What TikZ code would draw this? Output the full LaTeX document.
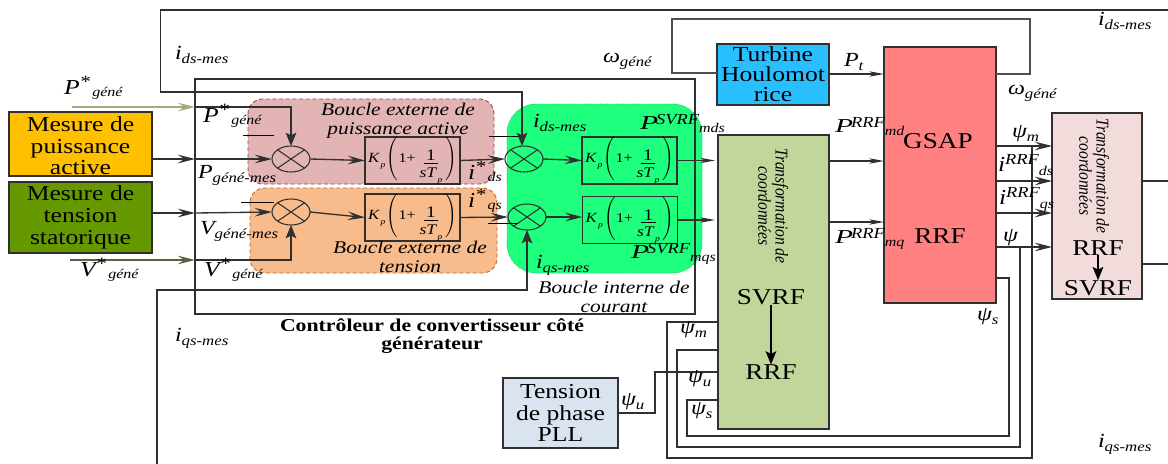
\documentclass[tikz,border=0pt]{standalone}
\usepackage{fontspec}
\usepackage{amsmath}
\setmainfont{Liberation Serif}[FakeStretch=1.2]
\usetikzlibrary{arrows.meta,shapes.geometric,calc}
\definecolor{cyel}{HTML}{FFC000}
\definecolor{cgrn}{HTML}{669900}
\definecolor{cpink}{HTML}{E3B4B4}
\definecolor{cpinkd}{HTML}{A04050}
\definecolor{corg}{HTML}{F7BB8C}
\definecolor{corgd}{HTML}{B86A30}
\definecolor{cgreen}{HTML}{1EFF7E}
\definecolor{cblue}{HTML}{29BFFF}
\definecolor{cred}{HTML}{FF8080}
\definecolor{colive}{HTML}{C2D69B}
\definecolor{crose}{HTML}{F2DCDB}
\definecolor{cpll}{HTML}{DAE3F0}
\definecolor{cpa}{HTML}{A8A880}
\definecolor{cva}{HTML}{5E5E40}
\definecolor{cln}{HTML}{303030}
\newcommand\sz[2]{\fontsize{#1}{#2}\selectfont}
\newcommand\lab[3]{{\itshape\sz{16}{16}#1\raisebox{.3em}{\sz{13}{13}#2}\raisebox{-.12em}{\sz{10}{10}\,#3}}}
\newcommand\sublab[2]{{\itshape\sz{15}{15}#1\raisebox{-.2em}{\sz{10.5}{10.5}#2}}}
\newcommand\suplab[3]{{\itshape\sz{18.5}{18}\scalebox{1}[.8]{#1}\kern-.08em\raisebox{.2em}{\sz{11.5}{12}#2}\raisebox{-.16em}{\sz{10}{10}#3}}}
\newcommand\isuplab[3]{{\itshape\sz{16}{16}#1\raisebox{.3em}{\sz{11.5}{12}#2}\raisebox{-.2em}{\sz{10}{10}#3}}}
\newcommand\pitext{{\itshape\sz{10.5}{10}K\raisebox{-.35em}{\sz{6}{6}\,p}\kern1pt$\left(\rule[-12.5pt]{0pt}{27pt}\right.$\kern-1pt{\upshape\sz{10}{10}1+}\kern3pt\raisebox{-6pt}{\begin{tabular}{@{}c@{}}\rule[-2pt]{0pt}{10pt}{\upshape\sz{12}{12}\underline{\,1\,}}\\[2pt]{\sz{11}{11}sT\raisebox{-.35em}{\sz{6}{6}\,p}}\end{tabular}}\kern1pt$\left.\rule[-12.5pt]{0pt}{27pt}\right)$}}
\newcommand\trtext{\scalebox{.72}[1]{\begin{tabular}{@{}c@{}}\itshape\sz{13.5}{21.5}Transformation de\\\itshape\sz{13.5}{21.5}coordonnées\end{tabular}}}
\tikzset{
  px/.style 2 args={minimum width=#1*0.75pt,minimum height=#2*0.75pt,inner sep=0pt,outer sep=0pt},
  blockbox/.style={draw=cln,line width=1.1pt,align=center},
  bigtxt/.style={font=\sz{16}{16.3},text=black},
  hugetxt/.style={font=\sz{17}{17},text=black},
  pibox/.style={draw=cln,line width=1pt,px={95}{41}},
  mult/.style={draw=cln,line width=.8pt,ellipse,px={38}{26}},
  region/.style={rounded corners=11pt,line width=.7pt,densely dashed},
  lb/.style={inner sep=0pt,outer sep=0pt,anchor=base west},
  ctr/.style={inner sep=0pt,outer sep=0pt,anchor=center,align=center},
  ital/.style={ctr,font=\itshape\sz{13.4}{14}},
  wire/.style={draw=cln,line width=1pt},
  ar/.style={-{Stealth[length=13pt,width=6.5pt,inset=5pt]}},
  sar/.style={-{Stealth[length=11pt,width=4pt,inset=3pt]}},
  nar/.style={-{Stealth[length=10pt,width=8pt,inset=2pt]}}
}
\begin{document}
\begin{tikzpicture}[x=0.75pt,y=-0.75pt]
\useasboundingbox (0,0) rectangle (1168,464);
% regions
\draw[region,draw=cpinkd,fill=cpink] (248,99) rectangle (494,184);
\draw[region,draw=corgd,fill=corg] (250,188) rectangle (497,273);
\draw[region,draw=cgreen!80!black,fill=cgreen,rounded corners=22pt,densely dotted] (507,104) rectangle (702,273);
% controller frame
\node[draw=cln,line width=1pt,px={500}{235},anchor=north west] (ctrl) at (195,79) {};
% blocks
\node[blockbox,fill=cyel,px={143}{64},bigtxt] (mp) at (80.5,144) {\rule{0pt}{14pt}Mesure de\\puissance\\active};
\node[blockbox,fill=cgrn,px={143}{71},bigtxt] (mt) at (80.5,217.5) {Mesure de\\tension\\statorique};
\node[blockbox,fill=cblue,px={112}{61},font=\sz{16}{15},text=black] (turb) at (773,74.5) {Turbine\\Houlomot\\rice};
\node[blockbox,fill=colive,px={111}{294}] (tr) at (773.5,282) {};
\node[blockbox,fill=cred,px={112}{256}] (gsap) at (940,175) {};
\node[blockbox,fill=crose,px={90}{186}] (trr) at (1097,206) {};
\node[blockbox,fill=cpll,px={115}{70},bigtxt] (pll) at (560.5,413) {Tension\\de phase\\PLL};
% multipliers
\node[mult] (m1) at (291,159) {};
\node[mult] (m2) at (291,212) {};
\node[mult] (m3) at (524,159) {};
\node[mult] (m4) at (527,217) {};
\foreach \m in {m1,m2,m3,m4}{
  \draw[cln,line width=.8pt] (\m.north west) -- (\m.south east) (\m.north east) -- (\m.south west);
}
% PI
\node[pibox] (pi1) at (412.5,160.5) {\pitext};
\node[pibox] (pi2) at (412.5,217.5) {\pitext};
\node[pibox] (pi3) at (629.5,160.5) {\pitext};
\node[pibox] (pi4) at (630,220) {\pitext};
% coordinates
\coordinate (ps) at (72,107);
\coordinate (pc) at (195,107);
\coordinate (vs) at (70,260);
\coordinate (vc) at (195,260);
\coordinate (mpc) at (195,159);
\coordinate (mtc) at (195,213);
\coordinate (top1) at (1168,10);
\coordinate (bot1) at (157,464);
\coordinate (r1) at (1168,181);
\coordinate (r2) at (1168,264);
% inputs
\draw[wire,draw=cpa,line width=1.2pt,ar] (ps) -- (pc);
\draw[wire,draw=cva,line width=1.2pt,ar] (vs) -- (vc);
\draw[wire,nar] (pc) -| (m1.north);
\draw[wire,nar] (vc) -| (m2.south);
\draw[wire,ar] (mp.east |- mpc) -- (mpc);
\draw[wire,ar] (mpc) -- (m1.west);
\draw[wire,ar] (mt.east |- mtc) -- (mtc);
\draw[wire,ar] (mtc) -- (m2.west);
% forward path
\draw[wire,ar] (m1.east) -- (pi1.west);
\draw[wire,ar] (m2.east) -- (pi2.west);
\draw[wire,ar] (pi1.east) -- (m3.west);
\draw[wire,ar] (pi2.east) -- (m4.west);
\draw[wire,ar] (m3.east) -- (pi3.west);
\draw[wire,ar] (m4.east) -- (pi4.west |- m4.east);
\draw[wire,sar] (pi3.east) -- ($(tr.west |- pi3.east)+(-3,0)$);
\draw[wire,sar] (pi4.east) -- ($(tr.west |- pi4.east)+(-3,0)$);
% overbars
\coordinate (b1a) at (243,135); \coordinate (b1b) at (274,135);
\coordinate (b2a) at (241,202); \coordinate (b2b) at (274,202);
\coordinate (b3a) at (489,136); \coordinate (b3b) at (520,136);
\coordinate (b4a) at (488,223); \coordinate (b4b) at (518,223);
\draw[line width=.7pt] (b1a) -- (b1b) (b2a) -- (b2b) (b3a) -- (b3b) (b4a) -- (b4b);
% feedback loops
\draw[wire,line width=1.1pt,nar] (top1) -- (160.5,10) -- (160.5,92) -- (522,92) -- (m3.north -| 522,0);
\draw[wire,line width=1.1pt,nar] (bot1) -- (157,290) -- (527,290) -- (m4.south);
\draw[wire,draw=cln!85] (turb.west |- 0,73) -- (672,73) -- (672,19) -- (1030,19) -- (1030,74) -- (gsap.east |- 0,74);
% to GSAP
\draw[wire,sar] (turb.east |- 0,74) -- (gsap.west |- 0,74);
\draw[wire,sar] (tr.east |- 0,161) -- (gsap.west |- 0,161);
\draw[wire,sar] (tr.east |- 0,222) -- (gsap.west |- 0,222);
% GSAP to right block
\foreach \yy in {146,181,213,247}{
  \draw[wire,ar] (gsap.east |- 0,\yy) -- (trr.west |- 0,\yy);
}
\draw[wire] (trr.east |- 0,181) -- (r1);
\draw[wire] (trr.east |- 0,264) -- (r2);
% flux returns
\draw[wire] (1032,146) -- (1032,458) -- (667,458) -- (667,322) -- (tr.west |- 0,322);
\draw[wire] (1020,247) -- (1020,447) -- (677,447) -- (677,350) -- (tr.west |- 0,350);
\draw[wire] (gsap.east |- 0,278) -- (1009,278) -- (1009,436) -- (687,436) -- (687,400) -- (tr.west |- 0,400);
\draw[wire] (pll.east) -- (655,413) -- (655,372) -- (tr.west |- 0,372);
% inner arrows
\node[ctr,hugetxt] (t1) at (771,297) {SVRF};
\node[ctr,hugetxt] (t2) at (771,372) {RRF};
\draw[line width=1.2pt,nar] (t1.south) -- (t2.north);
\node[ctr,hugetxt] (t3) at (1098,248) {RRF};
\node[ctr,hugetxt] (t4) at (1098,288) {SVRF};
\draw[line width=1.2pt,nar] (t3.south) -- (t4.north);
\node[ctr,hugetxt] (t5) at (938,141) {GSAP};
\node[ctr,hugetxt] (t6) at (940,236) {RRF};
\node[ctr,rotate=-90] (t7) at (771,206) {\trtext};
\node[ctr,rotate=-90] (t8) at (1092,176) {\trtext};
% region texts
\node[ital] (t9) at (398,121) {Boucle externe de\\puissance active};
\node[ital] (t10) at (410,257) {Boucle externe de\\tension};
\node[ital] (t11) at (614,297) {Boucle interne de\\courant};
\node[ctr,font=\bfseries\sz{13.6}{13.5}] (t12) at (432,336) {Contrôleur de convertisseur côté\\générateur};
% labels
\node[lb] (a1) at (175,59) {\sublab{i}{ds-mes}};
\node[lb] (a2) at (175,341) {\sublab{i}{qs-mes}};
\node[lb] (a3) at (1098,26) {\sublab{i}{ds-mes}};
\node[lb] (a4) at (1098,447) {\sublab{i}{qs-mes}};
\node[lb] (a5) at (533,127) {\sublab{i}{ds-mes}};
\node[lb] (a6) at (536,268) {\sublab{i}{qs-mes}};
\node[lb] (a7) at (64,94) {\lab{P}{*}{géné}};
\node[lb] (a8) at (203,122) {\lab{P}{*}{géné}};
\node[lb] (a9) at (80,276) {\lab{V}{*}{géné}};
\node[lb] (a10) at (204,276) {\lab{V}{*}{géné}};
\node[lb] (a11) at (198,178) {\sublab{P}{géné-mes}};
\node[lb] (a12) at (200,234) {\sublab{V}{géné-mes}};
\node[lb] (a13) at (603,62) {\sublab{ω}{géné}};
\node[lb] (a14) at (1008,94) {\sublab{ω}{géné}};
\node[lb] (a15) at (844,66) {\sublab{P}{t}};
\node[lb] (a16) at (468,179) {\lab{i}{*}{ds}};
\node[lb] (a17) at (468,207) {\lab{i}{*}{qs}};
\node[lb] (a18) at (640,129) {\suplab{P}{SVRF}{mds}};
\node[lb] (a19) at (631,258) {\suplab{P}{SVRF}{mqs}};
\node[lb] (a20) at (835,132) {\suplab{P}{RRF}{md}};
\node[lb] (a21) at (835,243) {\suplab{P}{RRF}{mq}};
\node[lb] (a22) at (1012,137) {\sublab{ψ}{m}};
\node[lb] (a23) at (998,171) {\isuplab{i}{RRF}{ds}};
\node[lb] (a24) at (999,204) {\isuplab{i}{RRF}{qs}};
\node[lb] (a25) at (1003,241) {\sublab{ψ}{}};
\node[lb] (a26) at (977,320) {\sublab{ψ}{s}};
\node[lb] (a27) at (680,333) {\sublab{ψ}{m}};
\node[lb] (a28) at (688,382) {\sublab{ψ}{u}};
\node[lb] (a29) at (691,414) {\sublab{ψ}{s}};
\node[lb] (a30) at (621,405) {\sublab{ψ}{u}};
\end{tikzpicture}
\end{document}
